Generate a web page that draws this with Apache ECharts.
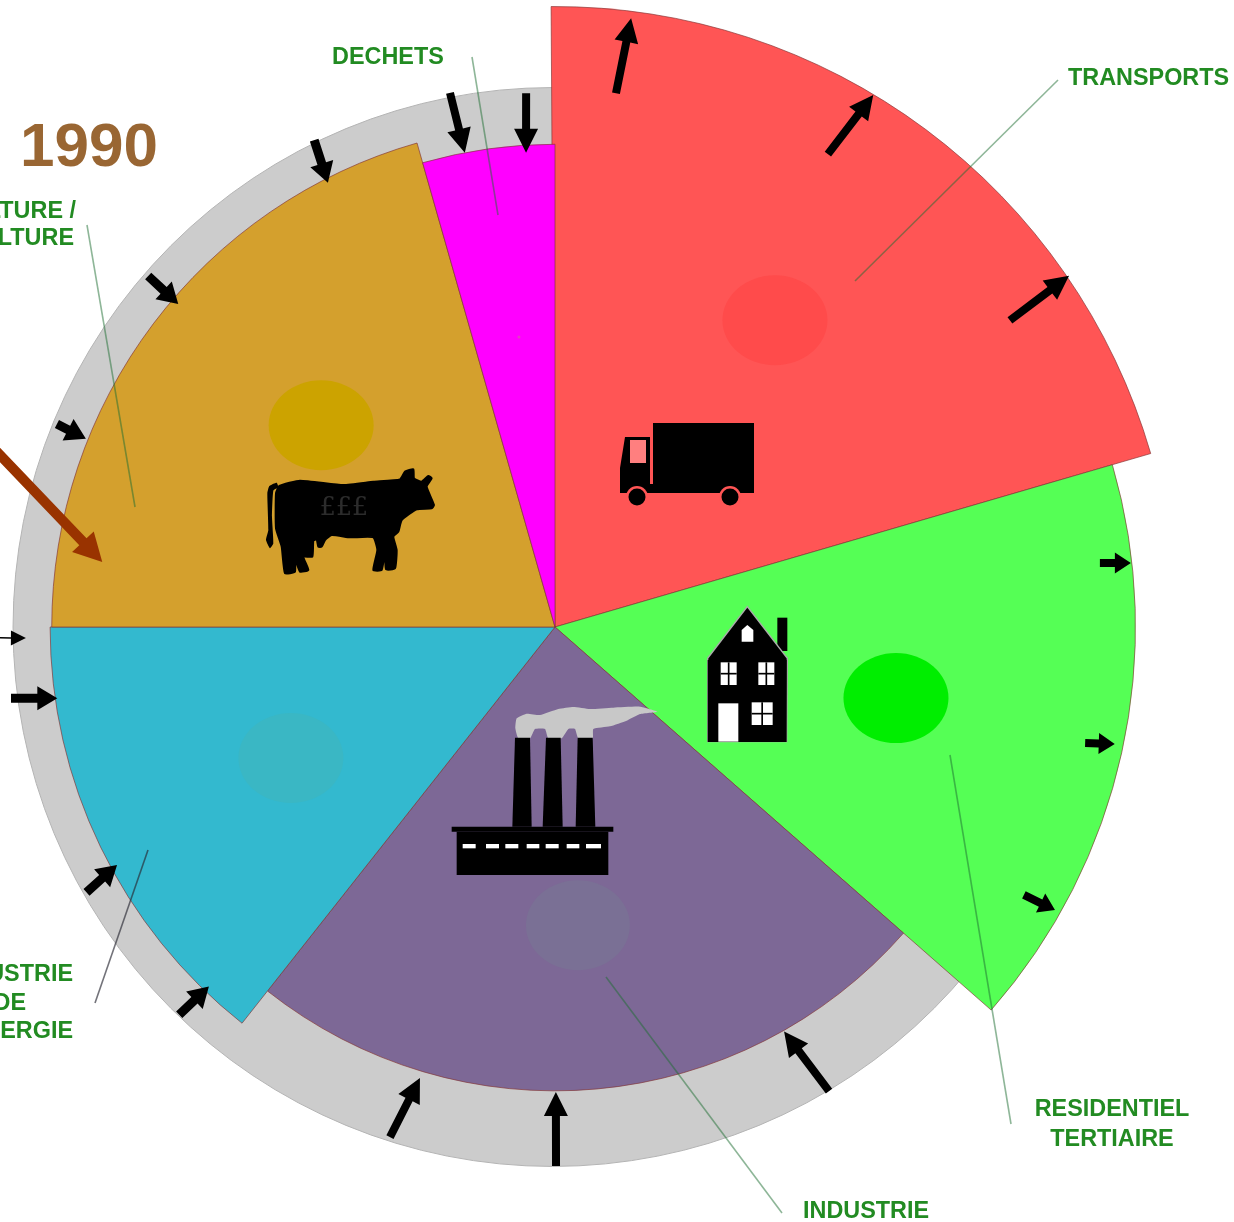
<!DOCTYPE html>
<html>
<head>
<meta charset="utf-8">
<title>1990</title>
<script src="https://cdn.jsdelivr.net/npm/echarts@6/dist/echarts.min.js"></script>
<style>
html, body { margin: 0; padding: 0; background: #fff; overflow: hidden; }
#main { width: 1234px; height: 1222px; }
</style>
</head>
<body>
<div id="main"></div>
<script>
// secteurs (part en %, rayon avec l'anneau gris = 100)
var sectorNames = ['TRANSPORTS', 'RESIDENTIEL TERTIAIRE', 'INDUSTRIE', "INDUSTRIE DE L'ENERGIE", 'AGRICULTURE / SYLVICULTURE', 'DECHETS'];
var sectorShares = [20.59, 15.98, 24.17, 14.36, 20.58, 4.42];
var sectorRadii = [114.9, 107.5, 85.9, 93.5, 93.2, 89.4];
var firstShare = -0.1;
var ringRadius = [99.9];

// pastilles (ellipses) dans les secteurs
var bubbleShares = [9.9, 28.27, 48.78, 67.67, 86.33, 98.03];
var bubbleRadii = [69.9, 64.5, 55.4, 54.6, 57.2, 54.1];

// fleches : queue et pointe
var arrowKinds = ['long', 'long', 'long', 'short', 'short', 'short', 'long', 'long', 'long', 'mid', 'mid', 'mid', 'thin', 'mid', 'mid', 'mid', 'long', 'long'];
var arrowTailShares = [1.81, 8.33, 15.56, 23.14, 28.43, 33.26, 41.51, 49.97, 54.98, 62.25, 66.8, 72.93, 74.69, 81.16, 86.33, 92.69, 96.91, 99.14];
var arrowTailRadii = [99.5, 101.1, 101.6, 101.6, 100.5, 100, 99.8, 99.8, 99.3, 100, 99.7, 101.6, 102.8, 99.6, 99.5, 100.6, 100.8, 99];
var arrowTipShares = [1.98, 8.58, 15.46, 23.24, 28.28, 33.2, 41.8, 49.97, 54.63, 62.2, 67.08, 72.74, 74.67, 81.07, 86.28, 92.48, 97.01, 99.03];
var arrowTipRadii = [113.6, 114.8, 115.3, 107.3, 105.9, 106.4, 86.1, 86.1, 87.2, 92.4, 92.3, 93.1, 98, 93.6, 91.9, 92.4, 89.4, 88];

// grande fleche marron
var focusArrow = [[79.87, 108.7, 77.27, 84.7]];

var sectorColors = ['#ff5555', '#55ff55', '#7d6896', '#33b9cf', '#d4a02d', '#ff00ff'];
var bubbleColors = ['#ff4b4b', '#00ee00', '#7a7095', '#3ab7c4', '#cca300', '#e040c0'];
var bubbleSizes = [[105, 90], [105, 90], [104, 90], [105, 90], [105, 90], [3, 3]];
var arrowStyles = {
    long: { shaft: 8, headW: 24, headL: 24 },
    mid: { shaft: 9, headW: 24, headL: 20 },
    short: { shaft: 8, headW: 21, headL: 16 },
    thin: { shaft: 1.5, headW: 15, headL: 15 }
};

var chart = echarts.init(document.getElementById('main'));

var sectorData = [];
var share = firstShare;
for (var i = 0; i < sectorShares.length; i++) {
    sectorData.push([share, share + sectorShares[i], sectorRadii[i]]);
    share += sectorShares[i];
}

var bubbleData = bubbleShares.map(function (s, i) {
    return {
        value: [bubbleRadii[i], s],
        symbolSize: bubbleSizes[i],
        itemStyle: { color: bubbleColors[i], opacity: 1 }
    };
});

var arrowData = arrowTailShares.map(function (s, i) {
    return [s, arrowTailRadii[i], arrowTipShares[i], arrowTipRadii[i], i];
});

// polygone d'une fleche entre deux points
function arrowPoints(a, b, st) {
    var dx = b[0] - a[0], dy = b[1] - a[1];
    var len = Math.sqrt(dx * dx + dy * dy);
    var ux = dx / len, uy = dy / len;
    var nx = -uy, ny = ux;
    var bx = b[0] - ux * st.headL, by = b[1] - uy * st.headL;
    var s = st.shaft / 2, h = st.headW / 2;
    return [
        [a[0] + nx * s, a[1] + ny * s],
        [bx + nx * s, by + ny * s],
        [bx + nx * h, by + ny * h],
        [b[0], b[1]],
        [bx - nx * h, by - ny * h],
        [bx - nx * s, by - ny * s],
        [a[0] - nx * s, a[1] - ny * s]
    ];
}

function renderRing(params, api) {
    var cs = params.coordSys;
    var p = api.coord([api.value(0), 25]);
    return {
        type: 'circle',
        // l'anneau gris est un peu decale vers la gauche sur l'original
        shape: { cx: cs.cx - 2.5, cy: cs.cy, r: Math.abs(p[0] - cs.cx) },
        style: { fill: '#cccccc', stroke: '#b4b4b4', lineWidth: 1 }
    };
}

function renderSector(params, api) {
    var cs = params.coordSys;
    var r = api.value(2);
    var p0 = api.coord([r, api.value(0)]);
    var p1 = api.coord([r, api.value(1)]);
    return {
        type: 'sector',
        shape: {
            cx: cs.cx,
            cy: cs.cy,
            r0: 0,
            r: Math.sqrt(Math.pow(p0[0] - cs.cx, 2) + Math.pow(p0[1] - cs.cy, 2)),
            startAngle: Math.atan2(p0[1] - cs.cy, p0[0] - cs.cx),
            endAngle: Math.atan2(p1[1] - cs.cy, p1[0] - cs.cx),
            clockwise: true
        },
        style: { fill: sectorColors[params.dataIndex], stroke: 'rgba(130,50,50,0.65)', lineWidth: 1 }
    };
}

function renderArrow(params, api) {
    var a = api.coord([api.value(1), api.value(0)]);
    var b = api.coord([api.value(3), api.value(2)]);
    return {
        type: 'polygon',
        shape: { points: arrowPoints(a, b, arrowStyles[arrowKinds[api.value(4)]]) },
        style: { fill: '#000' }
    };
}

function renderFocusArrow(params, api) {
    var a = api.coord([api.value(1), api.value(0)]);
    var b = api.coord([api.value(3), api.value(2)]);
    return {
        type: 'polygon',
        shape: { points: arrowPoints(a, b, { shaft: 10, headW: 30, headL: 28 }) },
        style: { fill: '#993300' }
    };
}

// --- dessins et textes ---
var Z = 50;
function poly(points, fill, extra, smooth) {
    var st = { fill: fill };
    if (extra) { for (var k in extra) { st[k] = extra[k]; } }
    return { type: 'polygon', z: Z, shape: { points: points, smooth: smooth || 0 }, style: st };
}
function rect(x, y, w, h, fill) {
    return { type: 'rect', z: Z, shape: { x: x, y: y, width: w, height: h }, style: { fill: fill } };
}
function circle(x, y, r, fill) {
    return { type: 'circle', z: Z, shape: { cx: x, cy: y, r: r }, style: { fill: fill } };
}
function label(text, x, y, align) {
    return {
        type: 'text', z: Z + 2, x: x, y: y,
        style: { text: text, fill: '#228b22', font: 'bold 23.4px "Liberation Sans"', textAlign: align || 'left', textVerticalAlign: 'middle' }
    };
}
function leader(x1, y1, x2, y2, color) {
    return {
        type: 'line', z: Z + 1,
        shape: { x1: x1, y1: y1, x2: x2, y2: y2 },
        style: { stroke: color || 'rgba(30,110,50,0.5)', lineWidth: 1.6 }
    };
}

var truck = {
    type: 'group', x: 0, y: 0,
    children: [
        rect(653, 423, 101, 70, '#000'),
        poly([[620, 493], [620, 468], [625, 437], [650, 437], [650, 484], [653, 484], [653, 493]], '#000'),
        rect(630, 440, 16, 23, '#ff7f7f'),
        circle(637, 497, 11, '#ff5555'),
        circle(730, 497, 11, '#ff5555'),
        circle(637, 497, 8.5, '#000'),
        circle(730, 497, 8.5, '#000')
    ]
};

var cow = {
    type: 'group', x: 250, y: 450, scaleX: 1 / 3, scaleY: 1 / 3,
    children: [
        poly([[78, 130], [88, 108], [150, 92], [280, 105], [370, 95], [450, 88], [465, 65], [490, 58], [492, 85], [515, 95], [535, 78], [545, 85], [530, 110], [552, 165], [545, 175], [500, 178], [455, 210], [445, 245], [430, 260], [440, 300], [435, 355], [408, 358], [405, 305], [395, 360], [370, 360], [382, 300], [370, 262], [300, 262], [245, 255], [225, 270], [215, 290], [205, 290], [200, 268], [190, 272], [187, 320], [160, 320], [175, 360], [150, 365], [135, 325], [135, 365], [105, 370], [95, 290], [78, 235]], '#000', { stroke: '#000', lineWidth: 6, lineJoin: 'round' }, 0.15),
        poly([[52, 130], [58, 108], [80, 98], [85, 112], [70, 122], [66, 200], [70, 280], [60, 295], [48, 270], [55, 240]], '#000', null, 0.15),
        { type: 'text', z: Z + 1, x: 282, y: 174, style: { text: '£££', fill: '#2c2c2c', font: '76px "DejaVu Serif"', textAlign: 'center', textVerticalAlign: 'middle' } }
    ]
};

function houseWindow(x, y, w, h) {
    return [
        rect(x, y, w, h, '#fff'),
        rect(x + w / 2 - 2.5, y, 5, h, '#000'),
        rect(x, y + h / 2 - 2.5, w, 5, '#000')
    ];
}
var house = {
    type: 'group', x: 690, y: 595, scaleX: 1 / 3, scaleY: 1 / 3,
    children: [
        rect(262, 68, 30, 100, '#000'),
        poly([[172, 35], [292, 190], [290, 440], [53, 440], [53, 190]], '#000', { stroke: '#aaa', lineWidth: 4 }),
        rect(53, 195, 237, 246, '#000'),
        rect(85, 325, 60, 115, '#fff'),
        poly([[155, 140], [155, 105], [172, 90], [190, 105], [190, 140]], '#fff')
    ].concat(houseWindow(92, 202, 48, 68), houseWindow(205, 202, 48, 68), houseWindow(185, 322, 63, 68))
};

var factory = {
    type: 'group', x: 440, y: 695, scaleX: 1 / 3, scaleY: 1 / 3,
    children: [
        poly([[230, 70], [260, 56], [300, 60], [355, 42], [400, 36], [450, 42], [520, 38], [600, 35], [652, 50], [600, 57], [560, 77], [510, 94], [460, 102], [458, 130], [415, 130], [405, 102], [385, 102], [365, 130], [325, 130], [315, 102], [285, 102], [270, 130], [235, 130], [226, 100]], '#c8c8c8', null, 0.15),
        poly([[225, 128], [270, 128], [275, 395], [217, 395]], '#000'),
        poly([[318, 128], [362, 128], [368, 395], [308, 395]], '#000'),
        poly([[413, 128], [458, 128], [466, 395], [407, 395]], '#000'),
        rect(35, 395, 485, 15, '#000'),
        rect(50, 410, 455, 130, '#000'),
        rect(68, 447, 39, 13, '#fff'),
        rect(138, 447, 39, 13, '#fff'),
        rect(196, 447, 39, 13, '#fff'),
        rect(260, 447, 38, 13, '#fff'),
        rect(317, 447, 39, 13, '#fff'),
        rect(380, 447, 38, 13, '#fff'),
        rect(438, 447, 45, 13, '#fff')
    ]
};

var option = {
    animation: false,
    polar: { center: [555, 627], radius: 648 },
    radiusAxis: { min: 0, max: 120, show: false },
    angleAxis: { min: 0, max: 100, startAngle: 90, show: false },
    series: [
        { type: 'custom', coordinateSystem: 'polar', z: 1, silent: true, renderItem: renderRing, data: [ringRadius] },
        { type: 'custom', coordinateSystem: 'polar', z: 2, renderItem: renderSector, data: sectorData },
        { type: 'scatter', coordinateSystem: 'polar', z: 3, silent: true, data: bubbleData },
        { type: 'custom', coordinateSystem: 'polar', z: 4, silent: true, renderItem: renderArrow, data: arrowData },
        { type: 'custom', coordinateSystem: 'polar', z: 5, silent: true, renderItem: renderFocusArrow, data: focusArrow }
    ],
    graphic: [
        truck, cow, house, factory,
        leader(472, 57, 498, 215),
        leader(1058, 80, 855, 281),
        leader(87, 225, 135, 507),
        leader(148, 850, 95, 1003, 'rgba(40,40,50,0.65)'),
        leader(606, 977, 782, 1213),
        leader(950, 755, 1011, 1124),
        { type: 'text', z: Z + 2, x: 20, y: 149, style: { text: '1990', fill: '#996633', font: 'bold 62px "Liberation Sans"', textVerticalAlign: 'middle' } },
        label('DECHETS', 332, 58),
        label('TRANSPORTS', 1068, 79),
        label('AGRICULTURE /', 76, 212, 'right'),
        label('SYLVICULTURE', 74, 239, 'right'),
        label('INDUSTRIE', 73, 975, 'right'),
        label('DE', 26, 1004, 'right'),
        label("L'ENERGIE", 73, 1032, 'right'),
        label('RESIDENTIEL', 1112, 1110, 'center'),
        label('TERTIAIRE', 1112, 1140, 'center'),
        label('INDUSTRIE', 803, 1212)
    ]
};

chart.setOption(option);
</script>
</body>
</html>
